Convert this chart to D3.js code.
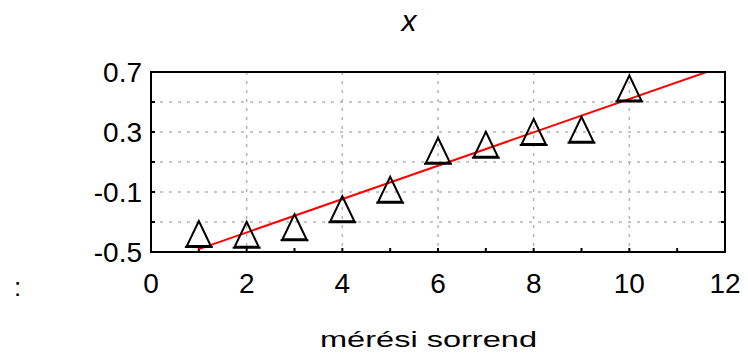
<!DOCTYPE html>
<html>
  <script src="https://d3js.org/d3.v7.js"></script>
  <body style="margin:0;background:#fff">
    <svg id="myPlot" width="748" height="355"></svg>
    <script>
      // Data
      const xs = [1, 2, 3, 4, 5, 6, 7, 8, 9, 10];
      const ys = [-0.38, -0.385, -0.335, -0.215, -0.085, 0.175, 0.215, 0.30, 0.315, 0.59];
      const xTicks = [0, 2, 4, 6, 8, 10, 12];
      const yTicks = [-0.5, -0.1, 0.3, 0.7];
      const yGrid = [-0.3, -0.1, 0.1, 0.3, 0.5];
      const xGrid = [2, 4, 6, 8, 10];

      const pLeft = 151, pRight = 725, pTop = 72, pBottom = 252;
      const svg = d3.select("#myPlot");

      const x = d3.scaleLinear().domain([0, 12]).range([pLeft, pRight]);
      const y = d3.scaleLinear().domain([-0.5, 0.7]).range([pBottom, pTop]);

      svg.append("rect").attr("width", 748).attr("height", 355).attr("fill", "#fff");

      // grid
      const grid = svg.append("g").attr("stroke", "#b4b4b4").attr("stroke-width", 1.5)
        .attr("stroke-dasharray", "3,6");
      grid.selectAll(".gy").data(yGrid).enter().append("line")
        .attr("x1", pLeft).attr("x2", pRight)
        .attr("y1", d => y(d)).attr("y2", d => y(d));
      grid.selectAll(".gx").data(xGrid).enter().append("line")
        .attr("y1", pTop).attr("y2", pBottom)
        .attr("x1", d => x(d)).attr("x2", d => x(d));

      // inward ticks
      const tk = svg.append("g").attr("stroke", "#000").attr("stroke-width", 2);
      tk.selectAll(".tb").data(d3.range(0, 13)).enter().append("line")
        .attr("x1", d => x(d)).attr("x2", d => x(d))
        .attr("y1", pBottom).attr("y2", pBottom - 4);
      const yMinor = d3.range(-0.5, 0.71, 0.2);
      tk.selectAll(".tl").data(yMinor).enter().append("line")
        .attr("x1", pLeft).attr("x2", pLeft + 4)
        .attr("y1", d => y(d)).attr("y2", d => y(d));
      tk.selectAll(".tr").data(yMinor).enter().append("line")
        .attr("x1", pRight).attr("x2", pRight - 4)
        .attr("y1", d => y(d)).attr("y2", d => y(d));

      // regression line
      const mx = d3.mean(xs), my = d3.mean(ys);
      const slope = d3.sum(xs, (v, i) => (v - mx) * (ys[i] - my)) / d3.sum(xs, v => (v - mx) * (v - mx));
      const icpt = my - slope * mx;
      svg.append("clipPath").attr("id", "clip").append("rect")
        .attr("x", pLeft).attr("y", pTop).attr("width", pRight - pLeft).attr("height", pBottom - pTop);
      svg.append("line")
        .attr("clip-path", "url(#clip)")
        .attr("x1", x(xs[0])).attr("y1", y(icpt + slope * xs[0]))
        .attr("x2", x(12)).attr("y2", y(icpt + slope * 12))
        .attr("stroke", "#ff0000").attr("stroke-width", 2);

      // triangles
      svg.selectAll(".pt").data(xs).enter().append("path")
        .attr("transform", (d, i) => "translate(" + x(d) + "," + y(ys[i]) + ")")
        .attr("d", "M0,-13L12,12L-12,12Z M-14,13H14")
        .attr("fill", "none").attr("stroke", "#000").attr("stroke-width", 2);

      // frame
      svg.append("rect").attr("x", pLeft).attr("y", pTop)
        .attr("width", pRight - pLeft).attr("height", pBottom - pTop)
        .attr("fill", "none").attr("stroke", "#000").attr("stroke-width", 2);

      // labels
      const font = "Liberation Sans, Arial, sans-serif";
      svg.selectAll(".yl").data(yTicks).enter().append("text")
        .attr("x", 142).attr("y", d => y(d) + 10)
        .attr("text-anchor", "end").attr("font-family", font).attr("font-size", 28)
        .text(d => d.toFixed(1));
      svg.selectAll(".xl").data(xTicks).enter().append("text")
        .attr("x", d => x(d)).attr("y", 293)
        .attr("text-anchor", "middle").attr("font-family", font).attr("font-size", 28)
        .text(d => d);

      svg.append("text").attr("x", 320).attr("y", 347)
        .attr("font-family", font).attr("font-size", 22)
        .attr("textLength", 217).attr("lengthAdjust", "spacingAndGlyphs")
        .text("mérési sorrend");

      svg.append("text").attr("x", 409).attr("y", 31)
        .attr("text-anchor", "middle").attr("font-family", font)
        .attr("font-style", "italic").attr("font-size", 30)
        .text("x");

      svg.append("text").attr("x", 14).attr("y", 296)
        .attr("font-family", font).attr("font-size", 26)
        .text(":");
    </script>
  </body>
</html>
